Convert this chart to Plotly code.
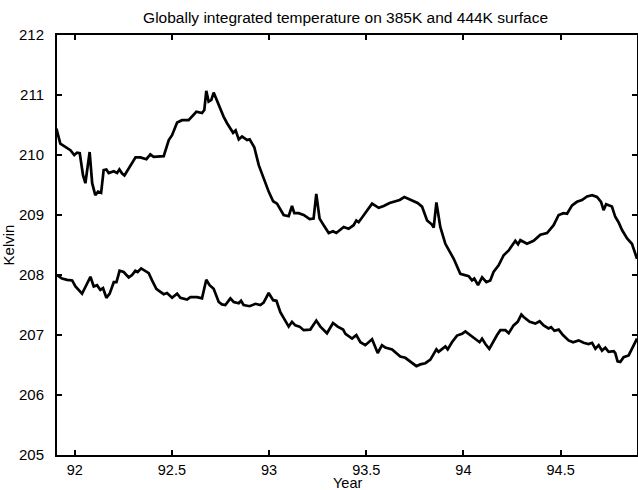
import plotly.graph_objects as go

# Upper series: globally integrated temperature (K), decimal year
upper_year = [
    91.906, 91.926, 91.978, 91.998, 92.012, 92.026, 92.043, 92.055, 92.077, 92.090,
    92.106, 92.120, 92.136, 92.149, 92.163, 92.175, 92.201, 92.218, 92.230, 92.244,
    92.256, 92.287, 92.313, 92.338, 92.369, 92.389, 92.406, 92.458, 92.484, 92.501,
    92.527, 92.552, 92.586, 92.626, 92.655, 92.667, 92.677, 92.689, 92.703, 92.715,
    92.733, 92.750, 92.766, 92.784, 92.801, 92.815, 92.828, 92.844, 92.861, 92.887,
    92.900, 92.924, 92.947, 92.972, 92.998, 93.021, 93.041, 93.075, 93.101, 93.118,
    93.130, 93.152, 93.178, 93.209, 93.229, 93.243, 93.260, 93.281, 93.307, 93.329,
    93.346, 93.384, 93.409, 93.435, 93.449, 93.461, 93.487, 93.530, 93.564, 93.590,
    93.620, 93.650, 93.672, 93.696, 93.727, 93.764, 93.787, 93.813, 93.838, 93.847,
    93.861, 93.881, 93.907, 93.950, 93.984, 94.010, 94.027, 94.044, 94.056, 94.075,
    94.096, 94.118, 94.138, 94.155, 94.181, 94.207, 94.233, 94.267, 94.281, 94.293,
    94.327, 94.361, 94.396, 94.430, 94.464, 94.490, 94.515, 94.533, 94.559, 94.584,
    94.610, 94.636, 94.662, 94.687, 94.708, 94.721, 94.734, 94.764, 94.781, 94.798,
    94.816, 94.842, 94.867, 94.893,
]
upper_temp = [
    210.44, 210.19, 210.08, 210.00, 210.04, 210.03, 209.66, 209.53, 210.05, 209.53,
    209.33, 209.39, 209.37, 209.75, 209.76, 209.70, 209.73, 209.70, 209.76, 209.69,
    209.66, 209.83, 209.96, 209.96, 209.93, 210.01, 209.97, 209.98, 210.25, 210.33,
    210.54, 210.58, 210.58, 210.72, 210.70, 210.75, 211.07, 210.89, 210.92, 211.04,
    210.89, 210.75, 210.64, 210.53, 210.43, 210.37, 210.41, 210.26, 210.31, 210.25,
    210.26, 210.13, 209.83, 209.61, 209.39, 209.23, 209.19, 209.00, 208.98, 209.15,
    209.03, 209.03, 209.00, 208.93, 208.94, 209.35, 208.94, 208.83, 208.70, 208.73,
    208.70, 208.80, 208.77, 208.83, 208.91, 208.88, 209.00, 209.19, 209.12, 209.15,
    209.20, 209.23, 209.25, 209.30, 209.25, 209.20, 209.14, 208.91, 208.84, 208.79,
    209.21, 208.80, 208.52, 208.27, 208.02, 207.99, 207.98, 207.91, 207.94, 207.83,
    207.96, 207.88, 207.91, 208.05, 208.16, 208.33, 208.41, 208.57, 208.51, 208.58,
    208.52, 208.57, 208.67, 208.70, 208.83, 209.00, 209.03, 209.02, 209.16, 209.22,
    209.25, 209.31, 209.33, 209.30, 209.22, 209.08, 209.18, 209.14, 208.97, 208.88,
    208.75, 208.61, 208.52, 208.27,
]

# Lower series
lower_year = [
    91.909, 91.935, 91.961, 91.987, 92.004, 92.038, 92.055, 92.081, 92.098, 92.115,
    92.132, 92.146, 92.163, 92.180, 92.201, 92.215, 92.231, 92.252, 92.278, 92.295,
    92.312, 92.324, 92.342, 92.364, 92.381, 92.398, 92.420, 92.441, 92.458, 92.475,
    92.501, 92.527, 92.544, 92.578, 92.595, 92.630, 92.655, 92.677, 92.694, 92.715,
    92.741, 92.758, 92.775, 92.801, 92.818, 92.844, 92.856, 92.869, 92.900, 92.930,
    92.955, 92.972, 92.998, 93.021, 93.038, 93.058, 93.084, 93.101, 93.118, 93.135,
    93.157, 93.178, 93.212, 93.243, 93.264, 93.298, 93.329, 93.353, 93.381, 93.393,
    93.427, 93.449, 93.470, 93.495, 93.530, 93.559, 93.581, 93.598, 93.633, 93.675,
    93.701, 93.727, 93.758, 93.778, 93.804, 93.830, 93.861, 93.872, 93.890, 93.907,
    93.919, 93.941, 93.967, 93.993, 94.010, 94.036, 94.061, 94.083, 94.096, 94.113,
    94.133, 94.155, 94.173, 94.190, 94.216, 94.233, 94.258, 94.279, 94.298, 94.310,
    94.341, 94.370, 94.392, 94.413, 94.438, 94.451, 94.468, 94.490, 94.512, 94.541,
    94.564, 94.593, 94.618, 94.644, 94.662, 94.679, 94.696, 94.713, 94.730, 94.747,
    94.773, 94.781, 94.793, 94.807, 94.824, 94.850, 94.876, 94.893,
]
lower_temp = [
    208.00, 207.94, 207.92, 207.91, 207.81, 207.69, 207.80, 207.97, 207.81, 207.83,
    207.75, 207.78, 207.62, 207.69, 207.88, 207.88, 208.07, 208.05, 207.96, 208.00,
    208.07, 208.05, 208.11, 208.07, 208.03, 207.91, 207.77, 207.72, 207.68, 207.70,
    207.62, 207.69, 207.62, 207.59, 207.63, 207.63, 207.61, 207.92, 207.83, 207.77,
    207.55, 207.51, 207.50, 207.61, 207.55, 207.53, 207.57, 207.50, 207.48, 207.52,
    207.50, 207.54, 207.70, 207.58, 207.57, 207.38, 207.22, 207.14, 207.22, 207.16,
    207.14, 207.08, 207.09, 207.24, 207.14, 207.03, 207.20, 207.14, 207.09, 207.02,
    206.94, 207.00, 206.88, 206.83, 206.93, 206.70, 206.83, 206.79, 206.76, 206.64,
    206.62, 206.55, 206.48, 206.51, 206.53, 206.59, 206.76, 206.72, 206.77, 206.81,
    206.76, 206.88, 206.99, 207.02, 207.06, 207.00, 206.94, 206.88, 206.94, 206.85,
    206.77, 206.91, 207.00, 207.08, 207.08, 207.03, 207.16, 207.22, 207.34, 207.30,
    207.22, 207.19, 207.23, 207.16, 207.11, 207.13, 207.07, 207.09, 207.00, 206.91,
    206.88, 206.91, 206.87, 206.85, 206.87, 206.77, 206.83, 206.74, 206.79, 206.72,
    206.73, 206.70, 206.56, 206.55, 206.63, 206.66, 206.83, 206.94,
]

x_ticks = [92, 92.5, 93, 93.5, 94, 94.5]
x_tick_text = ["92", "92.5", "93", "93.5", "94", "94.5"]
y_ticks = [205, 206, 207, 208, 209, 210, 211, 212]

FONT = "Liberation Sans, Arial, Helvetica, sans-serif"

fig = go.Figure()
for xs, ys in ((upper_year, upper_temp), (lower_year, lower_temp)):
    fig.add_trace(go.Scatter(
        x=xs, y=ys, mode="lines",
        line=dict(color="black", width=2.7),
        showlegend=False, hoverinfo="skip",
    ))

axis_common = dict(
    showline=True, linecolor="black", linewidth=2, mirror="ticks",
    ticks="inside", ticklen=5, tickwidth=1.5, tickcolor="black",
    showgrid=False, zeroline=False, automargin=False,
)

fig.update_layout(
    width=638, height=490,
    margin=dict(l=57, r=1, t=35, b=35),
    paper_bgcolor="white", plot_bgcolor="white",
    title=dict(
        text="Globally integrated temperature on 385K and 444K surface",
        x=0.5417, xanchor="center", y=0.964, yanchor="middle",
        font=dict(family=FONT, size=15.5, color="black"),
    ),
    xaxis=dict(
        range=[91.909, 94.893], tickvals=x_ticks, ticktext=x_tick_text,
        ticklabelstandoff=1,
        tickfont=dict(family=FONT, size=14.5, color="black"),
        **axis_common,
    ),
    yaxis=dict(
        range=[205, 212], tickvals=y_ticks,
        title=dict(text="Kelvin", standoff=3, font=dict(family=FONT, size=15, color="black")),
        ticklabelstandoff=8,
        tickfont=dict(family=FONT, size=15, color="black"),
        **axis_common,
    ),
)

# x-axis label placed just beneath the tick labels
fig.add_annotation(
    text="Year", xref="paper", yref="paper", x=0.5, y=-0.0452,
    xanchor="center", yanchor="top", showarrow=False, borderpad=0,
    font=dict(family=FONT, size=14.5, color="black"),
)

fig.write_html("out.html")
